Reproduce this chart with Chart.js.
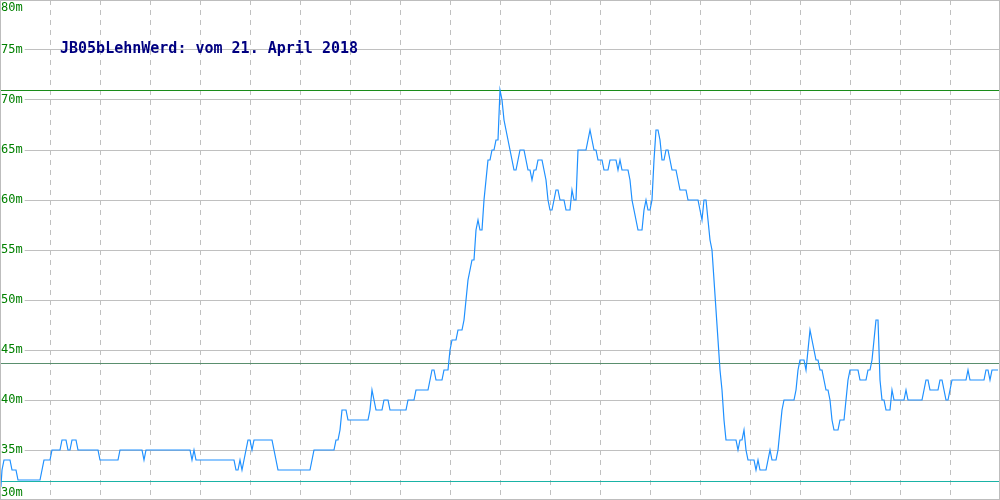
<!DOCTYPE html>
<html>
<head>
<meta charset="utf-8">
<script src="https://cdn.jsdelivr.net/npm/chart.js@4.4.1/dist/chart.umd.min.js"></script>
<style>
  html, body { margin: 0; padding: 0; background: #fff; overflow: hidden; }
  #wrap { width: 1000px; height: 500px; }
</style>
</head>
<body>
<div id="wrap"><canvas id="levelChart"></canvas></div>
<script>
// water level readings (m), one sample per step
const levels = [
  30,33,34,34,34,34,33,33,33,32, 32,32,32,32,32,32,32,32,32,32,
  32,33,34,34,34,34,35,35,35,35, 35,36,36,36,35,35,36,36,36,35,
  35,35,35,35,35,35,35,35,35,35, 34,34,34,34,34,34,34,34,34,34,
  35,35,35,35,35,35,35,35,35,35, 35,35,34,35,35,35,35,35,35,35,
  35,35,35,35,35,35,35,35,35,35, 35,35,35,35,35,35,34,35,34,34,
  34,34,34,34,34,34,34,34,34,34, 34,34,34,34,34,34,34,34,33,33,
  34,33,34,35,36,36,35,36,36,36, 36,36,36,36,36,36,36,35,34,33,
  33,33,33,33,33,33,33,33,33,33, 33,33,33,33,33,33,34,35,35,35,
  35,35,35,35,35,35,35,35,36,36, 37,39,39,39,38,38,38,38,38,38,
  38,38,38,38,38,39,41,40,39,39, 39,39,40,40,40,39,39,39,39,39,
  39,39,39,39,40,40,40,40,41,41, 41,41,41,41,41,42,43,43,42,42,
  42,42,43,43,43,45,46,46,46,47, 47,47,48,50,52,53,54,54,57,58,
  57,57,60,62,64,64,65,65,66,66, 71,70,68,67,66,65,64,63,63,64,
  65,65,65,64,63,63,62,63,63,64, 64,64,63,62,60,59,59,60,61,61,
  60,60,60,59,59,59,61,60,60,65, 65,65,65,65,66,67,66,65,65,64,
  64,64,63,63,63,64,64,64,64,63, 64,63,63,63,63,62,60,59,58,57,
  57,57,59,60,59,59,60,64,67,67, 66,64,64,65,65,64,63,63,63,62,
  61,61,61,61,60,60,60,60,60,60, 59,58,60,60,58,56,55,52,49,46,
  43,41,38,36,36,36,36,36,36,35, 36,36,37,35,34,34,34,34,33,34,
  33,33,33,33,34,35,34,34,34,35, 37,39,40,40,40,40,40,40,41,43,
  44,44,44,43,45,47,46,45,44,44, 43,43,42,41,41,40,38,37,37,37,
  38,38,38,40,42,43,43,43,43,43, 42,42,42,42,43,43,44,46,48,48,
  42,40,40,39,39,39,41,40,40,40, 40,40,40,41,40,40,40,40,40,40,
  40,40,41,42,42,41,41,41,41,41, 42,42,41,40,40,41,42,42,42,42,
  42,42,42,42,43,42,42,42,42,42, 42,42,42,43,43,42,43,43,43,43
];

const yMin = 30;
const yMax = 80;
const yStep = 5;
const xSteps = 500;   // samples across the plot
const xGridStep = 25; // samples between vertical grid lines

// reference levels (m) and their colours
const refLevels = [71, 43.7, 31.95];
const refColors = ['#1a8c1a', '#5a8f6e', '#1ab3a6'];

const titleText = 'JB05bLehnWerd: vom 21. April 2018';

const gridGray = '#c0c0c0';

// title, framing, reference lines and "NNm" labels
const decorations = {
    id: 'decorations',
    beforeDatasetsDraw(chart) {
        const { ctx, chartArea, scales } = chart;
        ctx.save();
        ctx.lineWidth = 1;
        refLevels.forEach((lvl, i) => {
            const y = Math.round(scales.y.getPixelForValue(lvl)) + 0.5;
            ctx.strokeStyle = refColors[i];
            ctx.beginPath();
            ctx.moveTo(chartArea.left, y);
            ctx.lineTo(chartArea.right, y);
            ctx.stroke();
        });
        ctx.restore();
    },
    afterDraw(chart) {
        const { ctx, chartArea, scales } = chart;
        ctx.save();

        // outer frame
        ctx.strokeStyle = '#bdbdbd';
        ctx.lineWidth = 1;
        ctx.strokeRect(chartArea.left + 0.5, chartArea.top + 0.5,
            chartArea.right - chartArea.left - 1, chartArea.bottom - chartArea.top - 1);

        // axis labels, kept inside the canvas
        ctx.font = '12px "DejaVu Sans Mono", monospace';
        ctx.textBaseline = 'middle';
        scales.y.ticks.forEach(t => {
            const label = t.value + 'm';
            let y = scales.y.getPixelForValue(t.value);
            y = Math.min(Math.max(y, chartArea.top + 8), chartArea.bottom - 7);
            const w = ctx.measureText(label).width;
            ctx.fillStyle = '#fff';
            ctx.fillRect(chartArea.left + 1, y - 6, w + 2, 12);
            ctx.fillStyle = '#008000';
            ctx.fillText(label, chartArea.left + 1, y);
        });

        // title
        ctx.font = 'bold 15px "DejaVu Sans Mono", monospace';
        ctx.textBaseline = 'alphabetic';
        ctx.fillStyle = '#000080';
        ctx.fillText(titleText, 60, 53);
        ctx.restore();
    }
};

const ctxLevel = document.getElementById('levelChart').getContext('2d');
const levelChart = new Chart(ctxLevel, {
    type: 'line',
    data: {
        datasets: [{
            data: levels.map((v, i) => ({ x: i, y: v })),
            borderColor: '#1e90ff',
            borderWidth: 1.2,
            pointRadius: 0,
            tension: 0,
            fill: false
        }]
    },
    options: {
        responsive: true,
        maintainAspectRatio: false,
        animation: false,
        layout: { padding: 0 },
        scales: {
            x: {
                type: 'linear',
                min: 0,
                max: xSteps,
                ticks: { display: false, stepSize: xGridStep },
                grid: {
                    color: c => (c.tick && (c.tick.value === 0 || c.tick.value === xSteps)) ? 'rgba(0,0,0,0)' : gridGray,
                    drawTicks: false
                },
                border: { display: false, dash: [5, 5] }
            },
            y: {
                min: yMin,
                max: yMax,
                ticks: { display: false, stepSize: yStep },
                grid: { color: gridGray, drawTicks: false },
                border: { display: false }
            }
        },
        plugins: {
            legend: { display: false },
            tooltip: { enabled: false }
        }
    },
    plugins: [decorations]
});
</script>
</body>
</html>
